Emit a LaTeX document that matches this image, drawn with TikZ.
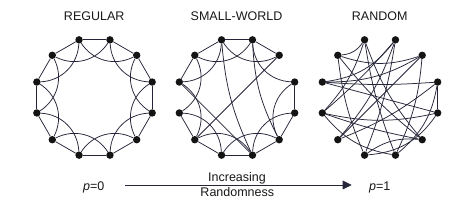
\documentclass[tikz,border=0pt]{standalone}
\usepackage{fontspec}
\setmainfont{Liberation Sans}
\usetikzlibrary{arrows.meta}
\definecolor{linecol}{RGB}{38,38,58}
\definecolor{nodecol}{RGB}{20,20,20}
\definecolor{txtcol}{RGB}{25,25,25}
\begin{document}
\begin{tikzpicture}[x=1pt,y=1pt,
  dot/.style={circle,fill=nodecol,inner sep=0pt,minimum size=7.4pt},
  edge/.style={draw=linecol,line width=0.75pt},
  arc/.style={edge,bend right=42},
  lbl/.style={font=\fontsize{12.5}{14}\selectfont,text=txtcol,inner sep=0pt}]
\useasboundingbox (0,0) rectangle (452,212);
\fill[white] (0,0) rectangle (452,212);
% nodes
\foreach \pre/\cx in {r/94.5,s/237,q/380}{
  \foreach \i in {0,...,11}{
    \pgfmathsetmacro\ang{105-30*\i}
    \node[dot] (\pre\i) at ({\cx+59.7*cos(\ang)},{114.5+59.7*sin(\ang)}) {};
  }
}
% titles
\node[lbl,anchor=base] (t1) at (94.2,191) {REGULAR};
\node[lbl,anchor=base] (t2) at (236.5,191) {SMALL-WORLD};
\node[lbl,anchor=base] (t3) at (379.7,191) {RANDOM};
% regular
\foreach \i in {0,...,11}{
  \pgfmathtruncatemacro\j{mod(\i+1,12)}
  \pgfmathtruncatemacro\k{mod(\i+2,12)}
  \draw[edge] (r\i) -- (r\j);
  \draw[arc] (r\i) to (r\k);
}
% small world
\foreach \i/\j in {0/1,1/2,3/4,4/5,5/6,6/7,7/8,8/9,10/11,11/0}{
  \draw[edge] (s\i) -- (s\j);
}
\foreach \i/\j in {0/2,1/3,3/5,4/6,5/7,6/8,7/9,8/10,9/11,10/0,11/1}{
  \draw[arc] (s\i) to (s\j);
}
\draw[edge] (s2) -- (s8);
\draw[edge] (s10) -- (s6);
\draw[edge] (s0) to[bend right=10] (s6);
\draw[edge] (s1) to[bend right=12] (s5);
% random
\foreach \i/\j/\b in {3/4/0,10/3/4,11/2/18,10/2/15,0/6/6,0/5/10,1/7/-6,1/8/-10,
  2/8/0,10/4/0,9/5/4,9/4/12,8/3/8,7/4/25,6/3/20,7/11/-8,6/9/-20,0/11/-25,
  1/10/-22,7/5/-20,11/5/6,0/9/-12,1/9/-4,6/2/10}{
  \draw[edge] (q\i) to[bend right=\b] (q\j);
}
% bottom
\node[lbl,anchor=base] (p0) at (93.8,22) {\textit{p}=0};
\node[lbl,anchor=base] (p1) at (379.7,22) {\textit{p}=1};
\coordinate (a0) at (125,27);
\coordinate (a1) at (351.7,27);
\draw[edge,-{Triangle[length=9pt,width=8.7pt]}] (a0) -- (a1);
\node[lbl,anchor=base] (inc) at (237,30.3) {Increasing};
\node[lbl,anchor=base] (rnd) at (237.3,15.3) {Randomness};
\end{tikzpicture}
\end{document}
